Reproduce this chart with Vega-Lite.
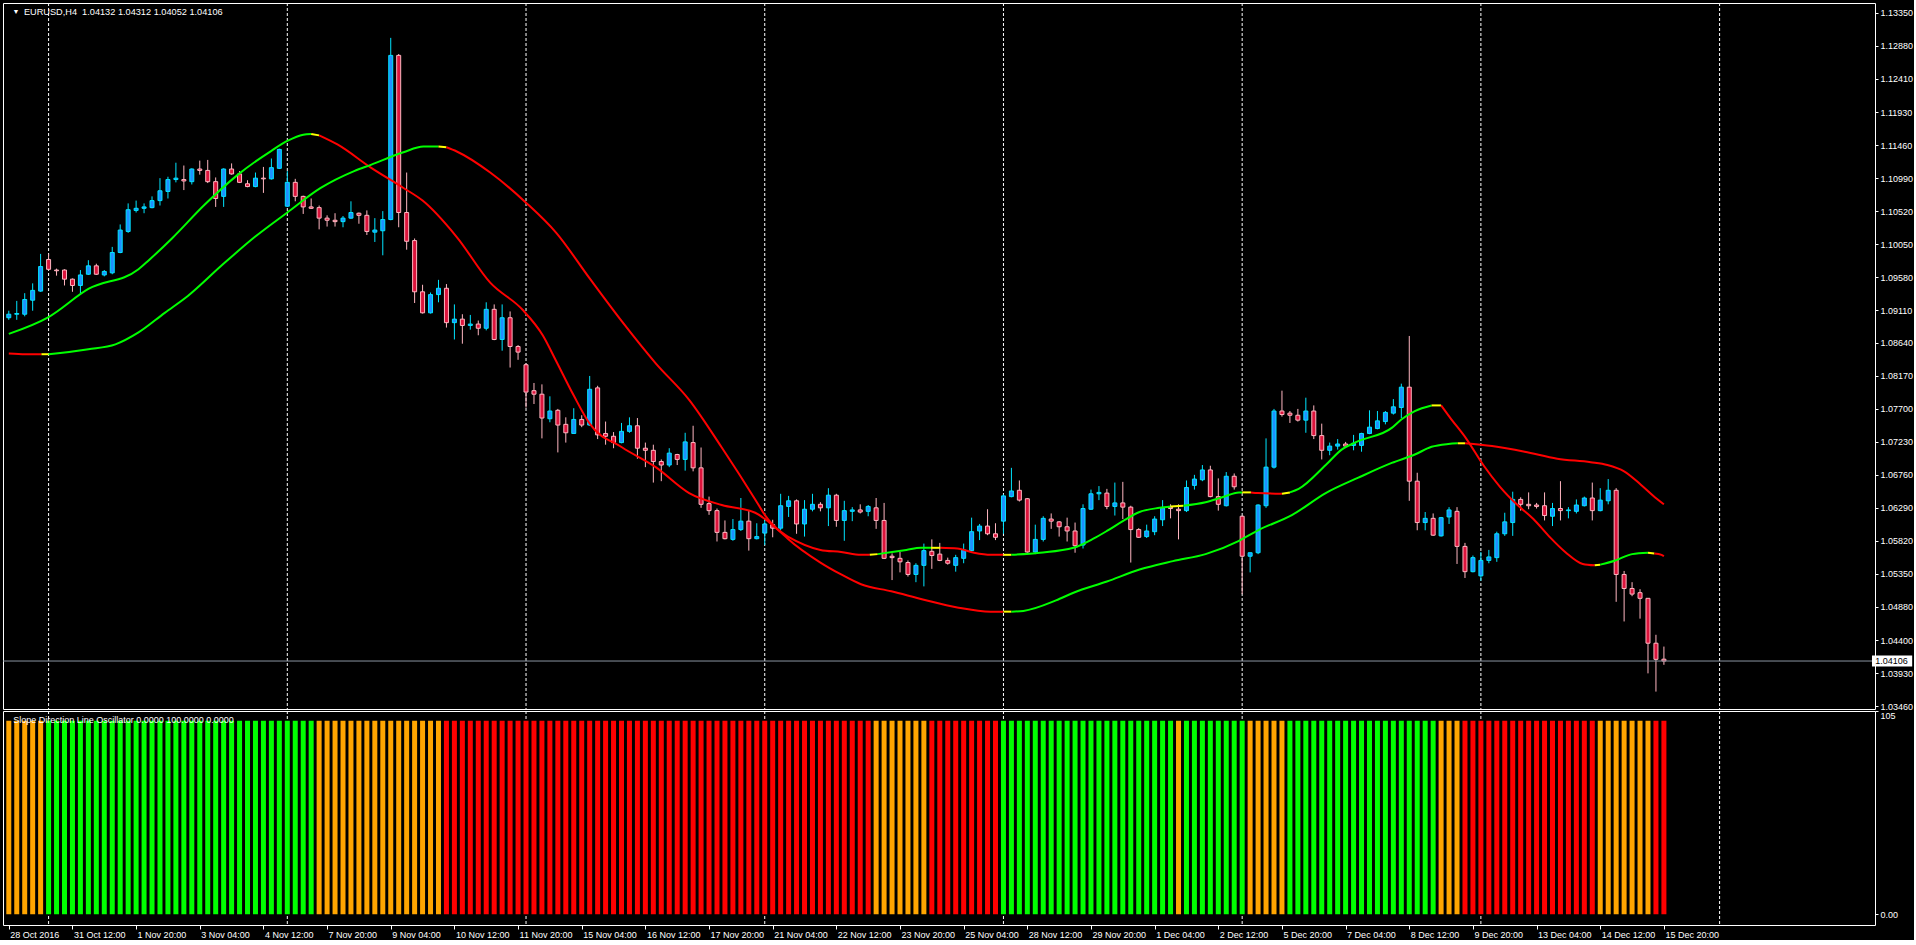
{
"$schema": "https://vega.github.io/schema/vega-lite/v6.json",
"background": "#000000",
"padding": {"left": 2, "top": 2, "right": 0, "bottom": 0},
"spacing": 2,
"bounds": "flush",
"config": {
  "view": {"stroke": "#FFFFFF", "strokeWidth": 1},
  "axis": {"labelFont": "Liberation Sans", "labelFontSize": 9, "labelColor": "#FFFFFF", "tickColor": "#FFFFFF", "grid": false, "domain": false, "labelOverlap": false},
  "text": {"font": "Liberation Sans", "fontSize": 9}
},
"datasets": {
"k": [
{"i":0,"o":1.0900,"h":1.0910,"l":1.0897,"c":1.0905,"d":"u"},
{"i":1,"o":1.0905,"h":1.0924,"l":1.0897,"c":1.0906,"d":"u"},
{"i":2,"o":1.0905,"h":1.0935,"l":1.0902,"c":1.0926,"d":"u"},
{"i":3,"o":1.0925,"h":1.0949,"l":1.0910,"c":1.0939,"d":"u"},
{"i":4,"o":1.0938,"h":1.0991,"l":1.0937,"c":1.0973,"d":"u"},
{"i":5,"o":1.0983,"h":1.0991,"l":1.0968,"c":1.0969,"d":"d"},
{"i":6,"o":1.0968,"h":1.0970,"l":1.0960,"c":1.0967,"d":"d"},
{"i":7,"o":1.0968,"h":1.0969,"l":1.0946,"c":1.0955,"d":"d"},
{"i":8,"o":1.0955,"h":1.0956,"l":1.0937,"c":1.0946,"d":"d"},
{"i":9,"o":1.0946,"h":1.0968,"l":1.0933,"c":1.0961,"d":"u"},
{"i":10,"o":1.0962,"h":1.0982,"l":1.0961,"c":1.0974,"d":"u"},
{"i":11,"o":1.0974,"h":1.0977,"l":1.0961,"c":1.0962,"d":"d"},
{"i":12,"o":1.0961,"h":1.0968,"l":1.0959,"c":1.0966,"d":"u"},
{"i":13,"o":1.0964,"h":1.1001,"l":1.0962,"c":1.0993,"d":"u"},
{"i":14,"o":1.0993,"h":1.1033,"l":1.0992,"c":1.1025,"d":"u"},
{"i":15,"o":1.1023,"h":1.1063,"l":1.1021,"c":1.1054,"d":"u"},
{"i":16,"o":1.1053,"h":1.1067,"l":1.1050,"c":1.1056,"d":"u"},
{"i":17,"o":1.1056,"h":1.1063,"l":1.1049,"c":1.1058,"d":"u"},
{"i":18,"o":1.1057,"h":1.1073,"l":1.1056,"c":1.1067,"d":"u"},
{"i":19,"o":1.1067,"h":1.1099,"l":1.1060,"c":1.1081,"d":"u"},
{"i":20,"o":1.1080,"h":1.1101,"l":1.1070,"c":1.1097,"d":"u"},
{"i":21,"o":1.1097,"h":1.1121,"l":1.1093,"c":1.1099,"d":"u"},
{"i":22,"o":1.1097,"h":1.1117,"l":1.1082,"c":1.1095,"d":"d"},
{"i":23,"o":1.1094,"h":1.1113,"l":1.1090,"c":1.1112,"d":"u"},
{"i":24,"o":1.1112,"h":1.1124,"l":1.1104,"c":1.1110,"d":"d"},
{"i":25,"o":1.1110,"h":1.1125,"l":1.1092,"c":1.1094,"d":"d"},
{"i":26,"o":1.1094,"h":1.1100,"l":1.1058,"c":1.1070,"d":"d"},
{"i":27,"o":1.1073,"h":1.1113,"l":1.1058,"c":1.1112,"d":"u"},
{"i":28,"o":1.1112,"h":1.1120,"l":1.1104,"c":1.1105,"d":"d"},
{"i":29,"o":1.1105,"h":1.1109,"l":1.1092,"c":1.1093,"d":"d"},
{"i":30,"o":1.1091,"h":1.1096,"l":1.1086,"c":1.1087,"d":"d"},
{"i":31,"o":1.1087,"h":1.1107,"l":1.1086,"c":1.1099,"d":"u"},
{"i":32,"o":1.1099,"h":1.1115,"l":1.1078,"c":1.1098,"d":"d"},
{"i":33,"o":1.1098,"h":1.1127,"l":1.1097,"c":1.1114,"d":"u"},
{"i":34,"o":1.1113,"h":1.1141,"l":1.1112,"c":1.1140,"d":"u"},
{"i":35,"o":1.1059,"h":1.1109,"l":1.1058,"c":1.1093,"d":"u"},
{"i":36,"o":1.1093,"h":1.1098,"l":1.1066,"c":1.1073,"d":"d"},
{"i":37,"o":1.1073,"h":1.1074,"l":1.1048,"c":1.1058,"d":"d"},
{"i":38,"o":1.1058,"h":1.1070,"l":1.1055,"c":1.1056,"d":"d"},
{"i":39,"o":1.1057,"h":1.1060,"l":1.1026,"c":1.1042,"d":"d"},
{"i":40,"o":1.1042,"h":1.1046,"l":1.1030,"c":1.1039,"d":"d"},
{"i":41,"o":1.1039,"h":1.1049,"l":1.1030,"c":1.1037,"d":"d"},
{"i":42,"o":1.1037,"h":1.1045,"l":1.1029,"c":1.1042,"d":"u"},
{"i":43,"o":1.1042,"h":1.1066,"l":1.1041,"c":1.1050,"d":"u"},
{"i":44,"o":1.1049,"h":1.1050,"l":1.1034,"c":1.1046,"d":"d"},
{"i":45,"o":1.1046,"h":1.1053,"l":1.1018,"c":1.1023,"d":"d"},
{"i":46,"o":1.1022,"h":1.1042,"l":1.1008,"c":1.1025,"d":"u"},
{"i":47,"o":1.1024,"h":1.1052,"l":1.0989,"c":1.1040,"d":"u"},
{"i":48,"o":1.1040,"h":1.1299,"l":1.1039,"c":1.1274,"d":"u"},
{"i":49,"o":1.1274,"h":1.1276,"l":1.1029,"c":1.1050,"d":"d"},
{"i":50,"o":1.1050,"h":1.1107,"l":1.0997,"c":1.1009,"d":"d"},
{"i":51,"o":1.1010,"h":1.1013,"l":1.0921,"c":1.0937,"d":"d"},
{"i":52,"o":1.0937,"h":1.0947,"l":1.0906,"c":1.0907,"d":"d"},
{"i":53,"o":1.0907,"h":1.0936,"l":1.0906,"c":1.0933,"d":"u"},
{"i":54,"o":1.0933,"h":1.0954,"l":1.0922,"c":1.0942,"d":"u"},
{"i":55,"o":1.0942,"h":1.0948,"l":1.0886,"c":1.0893,"d":"d"},
{"i":56,"o":1.0893,"h":1.0919,"l":1.0869,"c":1.0898,"d":"u"},
{"i":57,"o":1.0898,"h":1.0905,"l":1.0863,"c":1.0889,"d":"d"},
{"i":58,"o":1.0889,"h":1.0904,"l":1.0883,"c":1.0891,"d":"u"},
{"i":59,"o":1.0891,"h":1.0896,"l":1.0875,"c":1.0885,"d":"d"},
{"i":60,"o":1.0885,"h":1.0922,"l":1.0882,"c":1.0912,"d":"u"},
{"i":61,"o":1.0912,"h":1.0919,"l":1.0868,"c":1.0869,"d":"d"},
{"i":62,"o":1.0869,"h":1.0919,"l":1.0853,"c":1.0900,"d":"u"},
{"i":63,"o":1.0900,"h":1.0909,"l":1.0829,"c":1.0859,"d":"d"},
{"i":64,"o":1.0859,"h":1.0861,"l":1.0840,"c":1.0851,"d":"d"},
{"i":65,"o":1.0833,"h":1.0835,"l":1.0772,"c":1.0794,"d":"d"},
{"i":66,"o":1.0796,"h":1.0807,"l":1.0777,"c":1.0791,"d":"d"},
{"i":67,"o":1.0791,"h":1.0805,"l":1.0728,"c":1.0757,"d":"d"},
{"i":68,"o":1.0756,"h":1.0788,"l":1.0751,"c":1.0767,"d":"u"},
{"i":69,"o":1.0768,"h":1.0770,"l":1.0708,"c":1.0747,"d":"d"},
{"i":70,"o":1.0748,"h":1.0758,"l":1.0722,"c":1.0736,"d":"d"},
{"i":71,"o":1.0735,"h":1.0771,"l":1.0735,"c":1.0755,"d":"u"},
{"i":72,"o":1.0755,"h":1.0761,"l":1.0744,"c":1.0747,"d":"d"},
{"i":73,"o":1.0747,"h":1.0817,"l":1.0746,"c":1.0798,"d":"u"},
{"i":74,"o":1.0800,"h":1.0803,"l":1.0727,"c":1.0733,"d":"d"},
{"i":75,"o":1.0735,"h":1.0752,"l":1.0719,"c":1.0731,"d":"d"},
{"i":76,"o":1.0731,"h":1.0737,"l":1.0714,"c":1.0722,"d":"d"},
{"i":77,"o":1.0722,"h":1.0750,"l":1.0721,"c":1.0738,"d":"u"},
{"i":78,"o":1.0738,"h":1.0758,"l":1.0736,"c":1.0746,"d":"u"},
{"i":79,"o":1.0746,"h":1.0757,"l":1.0699,"c":1.0714,"d":"d"},
{"i":80,"o":1.0714,"h":1.0722,"l":1.0687,"c":1.0711,"d":"d"},
{"i":81,"o":1.0711,"h":1.0719,"l":1.0665,"c":1.0695,"d":"d"},
{"i":82,"o":1.0695,"h":1.0698,"l":1.0667,"c":1.0690,"d":"d"},
{"i":83,"o":1.0690,"h":1.0714,"l":1.0687,"c":1.0707,"d":"u"},
{"i":84,"o":1.0705,"h":1.0706,"l":1.0690,"c":1.0698,"d":"d"},
{"i":85,"o":1.0698,"h":1.0736,"l":1.0682,"c":1.0723,"d":"u"},
{"i":86,"o":1.0722,"h":1.0746,"l":1.0681,"c":1.0686,"d":"d"},
{"i":87,"o":1.0686,"h":1.0715,"l":1.0629,"c":1.0634,"d":"d"},
{"i":88,"o":1.0635,"h":1.0645,"l":1.0619,"c":1.0625,"d":"d"},
{"i":89,"o":1.0625,"h":1.0628,"l":1.0581,"c":1.0594,"d":"d"},
{"i":90,"o":1.0594,"h":1.0611,"l":1.0584,"c":1.0585,"d":"d"},
{"i":91,"o":1.0584,"h":1.0613,"l":1.0582,"c":1.0598,"d":"u"},
{"i":92,"o":1.0598,"h":1.0643,"l":1.0596,"c":1.0610,"d":"u"},
{"i":93,"o":1.0610,"h":1.0625,"l":1.0568,"c":1.0585,"d":"d"},
{"i":94,"o":1.0585,"h":1.0607,"l":1.0584,"c":1.0588,"d":"u"},
{"i":95,"o":1.0593,"h":1.0613,"l":1.0576,"c":1.0606,"d":"u"},
{"i":96,"o":1.0605,"h":1.0612,"l":1.0587,"c":1.0600,"d":"d"},
{"i":97,"o":1.0600,"h":1.0649,"l":1.0597,"c":1.0632,"d":"u"},
{"i":98,"o":1.0631,"h":1.0646,"l":1.0616,"c":1.0639,"d":"u"},
{"i":99,"o":1.0639,"h":1.0641,"l":1.0592,"c":1.0606,"d":"d"},
{"i":100,"o":1.0606,"h":1.0640,"l":1.0588,"c":1.0627,"d":"u"},
{"i":101,"o":1.0627,"h":1.0649,"l":1.0624,"c":1.0634,"d":"u"},
{"i":102,"o":1.0634,"h":1.0637,"l":1.0624,"c":1.0629,"d":"d"},
{"i":103,"o":1.0629,"h":1.0657,"l":1.0603,"c":1.0647,"d":"u"},
{"i":104,"o":1.0647,"h":1.0649,"l":1.0602,"c":1.0611,"d":"d"},
{"i":105,"o":1.0611,"h":1.0639,"l":1.0582,"c":1.0625,"d":"u"},
{"i":106,"o":1.0624,"h":1.0630,"l":1.0610,"c":1.0626,"d":"u"},
{"i":107,"o":1.0626,"h":1.0634,"l":1.0621,"c":1.0623,"d":"d"},
{"i":108,"o":1.0624,"h":1.0633,"l":1.0617,"c":1.0631,"d":"u"},
{"i":109,"o":1.0629,"h":1.0643,"l":1.0599,"c":1.0611,"d":"d"},
{"i":110,"o":1.0611,"h":1.0636,"l":1.0556,"c":1.0557,"d":"d"},
{"i":111,"o":1.0560,"h":1.0564,"l":1.0526,"c":1.0558,"d":"d"},
{"i":112,"o":1.0557,"h":1.0566,"l":1.0537,"c":1.0552,"d":"d"},
{"i":113,"o":1.0551,"h":1.0554,"l":1.0531,"c":1.0534,"d":"d"},
{"i":114,"o":1.0534,"h":1.0550,"l":1.0523,"c":1.0547,"d":"u"},
{"i":115,"o":1.0547,"h":1.0578,"l":1.0517,"c":1.0568,"d":"u"},
{"i":116,"o":1.0567,"h":1.0584,"l":1.0542,"c":1.0561,"d":"d"},
{"i":117,"o":1.0563,"h":1.0579,"l":1.0553,"c":1.0554,"d":"d"},
{"i":118,"o":1.0554,"h":1.0558,"l":1.0548,"c":1.0550,"d":"d"},
{"i":119,"o":1.0547,"h":1.0562,"l":1.0538,"c":1.0558,"d":"u"},
{"i":120,"o":1.0557,"h":1.0578,"l":1.0550,"c":1.0569,"d":"u"},
{"i":121,"o":1.0568,"h":1.0615,"l":1.0567,"c":1.0595,"d":"u"},
{"i":122,"o":1.0596,"h":1.0606,"l":1.0583,"c":1.0603,"d":"u"},
{"i":123,"o":1.0603,"h":1.0627,"l":1.0590,"c":1.0592,"d":"d"},
{"i":124,"o":1.0592,"h":1.0607,"l":1.0583,"c":1.0587,"d":"d"},
{"i":125,"o":1.0610,"h":1.0648,"l":1.0592,"c":1.0646,"d":"u"},
{"i":126,"o":1.0645,"h":1.0686,"l":1.0644,"c":1.0653,"d":"u"},
{"i":127,"o":1.0654,"h":1.0668,"l":1.0638,"c":1.0640,"d":"d"},
{"i":128,"o":1.0642,"h":1.0643,"l":1.0565,"c":1.0566,"d":"d"},
{"i":129,"o":1.0566,"h":1.0605,"l":1.0563,"c":1.0584,"d":"u"},
{"i":130,"o":1.0584,"h":1.0617,"l":1.0581,"c":1.0614,"d":"u"},
{"i":131,"o":1.0613,"h":1.0621,"l":1.0599,"c":1.0610,"d":"d"},
{"i":132,"o":1.0609,"h":1.0610,"l":1.0588,"c":1.0602,"d":"d"},
{"i":133,"o":1.0602,"h":1.0615,"l":1.0581,"c":1.0596,"d":"d"},
{"i":134,"o":1.0596,"h":1.0608,"l":1.0565,"c":1.0575,"d":"d"},
{"i":135,"o":1.0576,"h":1.0634,"l":1.0571,"c":1.0628,"d":"u"},
{"i":136,"o":1.0627,"h":1.0655,"l":1.0626,"c":1.0649,"d":"u"},
{"i":137,"o":1.0649,"h":1.0660,"l":1.0640,"c":1.0651,"d":"u"},
{"i":138,"o":1.0650,"h":1.0656,"l":1.0627,"c":1.0631,"d":"d"},
{"i":139,"o":1.0631,"h":1.0665,"l":1.0618,"c":1.0636,"d":"u"},
{"i":140,"o":1.0636,"h":1.0666,"l":1.0613,"c":1.0630,"d":"d"},
{"i":141,"o":1.0630,"h":1.0632,"l":1.0551,"c":1.0598,"d":"d"},
{"i":142,"o":1.0598,"h":1.0600,"l":1.0586,"c":1.0587,"d":"d"},
{"i":143,"o":1.0588,"h":1.0605,"l":1.0586,"c":1.0596,"d":"u"},
{"i":144,"o":1.0595,"h":1.0617,"l":1.0590,"c":1.0613,"d":"u"},
{"i":145,"o":1.0612,"h":1.0640,"l":1.0603,"c":1.0629,"d":"u"},
{"i":146,"o":1.0630,"h":1.0634,"l":1.0614,"c":1.0628,"d":"d"},
{"i":147,"o":1.0627,"h":1.0634,"l":1.0584,"c":1.0625,"d":"d"},
{"i":148,"o":1.0625,"h":1.0668,"l":1.0623,"c":1.0658,"d":"u"},
{"i":149,"o":1.0661,"h":1.0676,"l":1.0655,"c":1.0670,"d":"u"},
{"i":150,"o":1.0669,"h":1.0690,"l":1.0667,"c":1.0683,"d":"u"},
{"i":151,"o":1.0683,"h":1.0689,"l":1.0644,"c":1.0645,"d":"d"},
{"i":152,"o":1.0645,"h":1.0671,"l":1.0625,"c":1.0634,"d":"d"},
{"i":153,"o":1.0632,"h":1.0680,"l":1.0631,"c":1.0674,"d":"u"},
{"i":154,"o":1.0674,"h":1.0678,"l":1.0655,"c":1.0659,"d":"d"},
{"i":155,"o":1.0617,"h":1.0618,"l":1.0506,"c":1.0560,"d":"d"},
{"i":156,"o":1.0560,"h":1.0565,"l":1.0537,"c":1.0565,"d":"u"},
{"i":157,"o":1.0565,"h":1.0634,"l":1.0563,"c":1.0633,"d":"u"},
{"i":158,"o":1.0632,"h":1.0728,"l":1.0629,"c":1.0687,"d":"u"},
{"i":159,"o":1.0687,"h":1.0770,"l":1.0685,"c":1.0767,"d":"u"},
{"i":160,"o":1.0767,"h":1.0796,"l":1.0759,"c":1.0762,"d":"d"},
{"i":161,"o":1.0764,"h":1.0767,"l":1.0750,"c":1.0761,"d":"d"},
{"i":162,"o":1.0761,"h":1.0770,"l":1.0752,"c":1.0754,"d":"d"},
{"i":163,"o":1.0754,"h":1.0786,"l":1.0736,"c":1.0767,"d":"u"},
{"i":164,"o":1.0767,"h":1.0775,"l":1.0727,"c":1.0732,"d":"d"},
{"i":165,"o":1.0732,"h":1.0749,"l":1.0698,"c":1.0711,"d":"d"},
{"i":166,"o":1.0711,"h":1.0722,"l":1.0704,"c":1.0717,"d":"u"},
{"i":167,"o":1.0717,"h":1.0727,"l":1.0712,"c":1.0720,"d":"u"},
{"i":168,"o":1.0720,"h":1.0723,"l":1.0715,"c":1.0717,"d":"d"},
{"i":169,"o":1.0718,"h":1.0733,"l":1.0711,"c":1.0721,"d":"u"},
{"i":170,"o":1.0718,"h":1.0736,"l":1.0709,"c":1.0735,"d":"u"},
{"i":171,"o":1.0735,"h":1.0768,"l":1.0734,"c":1.0744,"d":"u"},
{"i":172,"o":1.0742,"h":1.0767,"l":1.0741,"c":1.0753,"d":"u"},
{"i":173,"o":1.0752,"h":1.0767,"l":1.0748,"c":1.0765,"d":"u"},
{"i":174,"o":1.0764,"h":1.0784,"l":1.0762,"c":1.0773,"d":"u"},
{"i":175,"o":1.0772,"h":1.0806,"l":1.0757,"c":1.0801,"d":"u"},
{"i":176,"o":1.0801,"h":1.0874,"l":1.0639,"c":1.0667,"d":"d"},
{"i":177,"o":1.0667,"h":1.0679,"l":1.0597,"c":1.0608,"d":"d"},
{"i":178,"o":1.0608,"h":1.0623,"l":1.0597,"c":1.0614,"d":"u"},
{"i":179,"o":1.0614,"h":1.0621,"l":1.0589,"c":1.0590,"d":"d"},
{"i":180,"o":1.0589,"h":1.0616,"l":1.0588,"c":1.0615,"d":"u"},
{"i":181,"o":1.0616,"h":1.0630,"l":1.0606,"c":1.0626,"d":"u"},
{"i":182,"o":1.0624,"h":1.0630,"l":1.0549,"c":1.0574,"d":"d"},
{"i":183,"o":1.0574,"h":1.0579,"l":1.0529,"c":1.0538,"d":"d"},
{"i":184,"o":1.0538,"h":1.0561,"l":1.0537,"c":1.0558,"d":"u"},
{"i":185,"o":1.0532,"h":1.0566,"l":1.0525,"c":1.0554,"d":"u"},
{"i":186,"o":1.0554,"h":1.0569,"l":1.0550,"c":1.0559,"d":"u"},
{"i":187,"o":1.0558,"h":1.0595,"l":1.0552,"c":1.0592,"d":"u"},
{"i":188,"o":1.0592,"h":1.0622,"l":1.0589,"c":1.0609,"d":"u"},
{"i":189,"o":1.0608,"h":1.0652,"l":1.0589,"c":1.0641,"d":"u"},
{"i":190,"o":1.0641,"h":1.0644,"l":1.0625,"c":1.0634,"d":"d"},
{"i":191,"o":1.0634,"h":1.0651,"l":1.0627,"c":1.0632,"d":"d"},
{"i":192,"o":1.0633,"h":1.0636,"l":1.0628,"c":1.0631,"d":"d"},
{"i":193,"o":1.0632,"h":1.0651,"l":1.0611,"c":1.0618,"d":"d"},
{"i":194,"o":1.0617,"h":1.0636,"l":1.0603,"c":1.0628,"d":"u"},
{"i":195,"o":1.0628,"h":1.0667,"l":1.0611,"c":1.0625,"d":"d"},
{"i":196,"o":1.0625,"h":1.0630,"l":1.0614,"c":1.0626,"d":"u"},
{"i":197,"o":1.0624,"h":1.0641,"l":1.0621,"c":1.0633,"d":"u"},
{"i":198,"o":1.0632,"h":1.0645,"l":1.0631,"c":1.0643,"d":"u"},
{"i":199,"o":1.0643,"h":1.0665,"l":1.0611,"c":1.0625,"d":"d"},
{"i":200,"o":1.0625,"h":1.0657,"l":1.0624,"c":1.0640,"d":"u"},
{"i":201,"o":1.0639,"h":1.0670,"l":1.0634,"c":1.0654,"d":"u"},
{"i":202,"o":1.0654,"h":1.0657,"l":1.0495,"c":1.0534,"d":"d"},
{"i":203,"o":1.0534,"h":1.0539,"l":1.0467,"c":1.0514,"d":"d"},
{"i":204,"o":1.0514,"h":1.0523,"l":1.0503,"c":1.0506,"d":"d"},
{"i":205,"o":1.0508,"h":1.0513,"l":1.0471,"c":1.0500,"d":"d"},
{"i":206,"o":1.0500,"h":1.0500,"l":1.0393,"c":1.0436,"d":"d"},
{"i":207,"o":1.0436,"h":1.0448,"l":1.0367,"c":1.0413,"d":"d"},
{"i":208,"o":1.04132,"h":1.04312,"l":1.04052,"c":1.04106,"d":"d"}
],
"ma": [
{"s":"F1","c":"g","i":0,"v":1.0877},{"s":"F1","c":"g","i":5,"v":1.0901},{"s":"F1","c":"g","i":10,"v":1.0941},{"s":"F1","c":"g","i":16.3,"v":1.0969},{"s":"F1","c":"g","i":17.6,"v":1.0982},{"s":"F1","c":"g","i":20.5,"v":1.1013},{"s":"F1","c":"g","i":24.6,"v":1.1061},{"s":"F1","c":"g","i":28.8,"v":1.1104},{"s":"F1","c":"g","i":33,"v":1.1138},{"s":"F1","c":"g","i":35,"v":1.1152},{"s":"F1","c":"g","i":37,"v":1.1161},{"s":"F1","c":"g","i":38,"v":1.1162},
{"s":"F2","c":"y","i":38,"v":1.1162},{"s":"F2","c":"y","i":39,"v":1.1160},
{"s":"F3","c":"r","i":39,"v":1.1160},{"s":"F3","c":"r","i":41.3,"v":1.1147},{"s":"F3","c":"r","i":45.5,"v":1.1114},{"s":"F3","c":"r","i":49.6,"v":1.1085},{"s":"F3","c":"r","i":52,"v":1.1067},{"s":"F3","c":"r","i":56.3,"v":1.1015},{"s":"F3","c":"r","i":60.5,"v":1.0950},{"s":"F3","c":"r","i":64.6,"v":1.0911},{"s":"F3","c":"r","i":67.1,"v":1.0875},{"s":"F3","c":"r","i":68.8,"v":1.0838},{"s":"F3","c":"r","i":71,"v":1.0789},{"s":"F3","c":"r","i":73,"v":1.0749},{"s":"F3","c":"r","i":77.1,"v":1.0715},{"s":"F3","c":"r","i":81.3,"v":1.0687},{"s":"F3","c":"r","i":85.5,"v":1.0650},{"s":"F3","c":"r","i":89.6,"v":1.0633},{"s":"F3","c":"r","i":93.8,"v":1.0622},{"s":"F3","c":"r","i":97.9,"v":1.0588},{"s":"F3","c":"r","i":102,"v":1.0569},{"s":"F3","c":"r","i":104.6,"v":1.0566},{"s":"F3","c":"r","i":107.1,"v":1.0562},{"s":"F3","c":"r","i":108.2,"v":1.0562},
{"s":"F4","c":"y","i":108.2,"v":1.0562},{"s":"F4","c":"y","i":109.2,"v":1.0563},
{"s":"F5","c":"g","i":109.2,"v":1.0563},{"s":"F5","c":"g","i":112.8,"v":1.0569},{"s":"F5","c":"g","i":114.6,"v":1.0572},{"s":"F5","c":"g","i":115.9,"v":1.0572},
{"s":"F6","c":"y","i":115.9,"v":1.0572},{"s":"F6","c":"y","i":117.1,"v":1.0572},
{"s":"F7","c":"r","i":117.1,"v":1.0572},{"s":"F7","c":"r","i":119.2,"v":1.0571},{"s":"F7","c":"r","i":121.3,"v":1.0565},{"s":"F7","c":"r","i":123.4,"v":1.0562},{"s":"F7","c":"r","i":125,"v":1.0562},
{"s":"F8","c":"y","i":125,"v":1.0562},{"s":"F8","c":"y","i":126,"v":1.0562},
{"s":"F9","c":"g","i":126,"v":1.0562},{"s":"F9","c":"g","i":129.6,"v":1.0565},{"s":"F9","c":"g","i":133.8,"v":1.0572},{"s":"F9","c":"g","i":136.3,"v":1.0585},{"s":"F9","c":"g","i":138,"v":1.0596},{"s":"F9","c":"g","i":140,"v":1.0610},{"s":"F9","c":"g","i":142.1,"v":1.0623},{"s":"F9","c":"g","i":144.6,"v":1.0629},{"s":"F9","c":"g","i":146,"v":1.0631},
{"s":"F10","c":"y","i":146,"v":1.0631},{"s":"F10","c":"y","i":147.6,"v":1.0632},
{"s":"F11","c":"g","i":147.6,"v":1.0632},{"s":"F11","c":"g","i":150.4,"v":1.0637},{"s":"F11","c":"g","i":152.5,"v":1.0644},{"s":"F11","c":"g","i":154.6,"v":1.0651},{"s":"F11","c":"g","i":155,"v":1.0651},
{"s":"F12","c":"y","i":155,"v":1.0651},{"s":"F12","c":"y","i":156.1,"v":1.0651},
{"s":"F13","c":"r","i":156.1,"v":1.0651},{"s":"F13","c":"r","i":157,"v":1.0650},{"s":"F13","c":"r","i":160,"v":1.0649},
{"s":"F14","c":"y","i":160,"v":1.0649},{"s":"F14","c":"y","i":161,"v":1.0651},
{"s":"F15","c":"g","i":161,"v":1.0651},{"s":"F15","c":"g","i":162.1,"v":1.0656},{"s":"F15","c":"g","i":165.5,"v":1.0690},{"s":"F15","c":"g","i":167.5,"v":1.0712},{"s":"F15","c":"g","i":169.6,"v":1.0724},{"s":"F15","c":"g","i":173.8,"v":1.0743},{"s":"F15","c":"g","i":175,"v":1.0755},{"s":"F15","c":"g","i":176.7,"v":1.0767},{"s":"F15","c":"g","i":178.8,"v":1.0775},
{"s":"F16","c":"y","i":178.8,"v":1.0775},{"s":"F16","c":"y","i":180,"v":1.0775},
{"s":"F17","c":"r","i":180,"v":1.0775},{"s":"F17","c":"r","i":181.1,"v":1.0758},{"s":"F17","c":"r","i":183.2,"v":1.0727},{"s":"F17","c":"r","i":185.3,"v":1.0690},{"s":"F17","c":"r","i":187.4,"v":1.0659},{"s":"F17","c":"r","i":189.5,"v":1.0634},{"s":"F17","c":"r","i":191.6,"v":1.0613},{"s":"F17","c":"r","i":193.6,"v":1.0588},{"s":"F17","c":"r","i":195.7,"v":1.0565},{"s":"F17","c":"r","i":197.8,"v":1.0549},{"s":"F17","c":"r","i":199.3,"v":1.0547},
{"s":"F18","c":"y","i":199.3,"v":1.0547},{"s":"F18","c":"y","i":200,"v":1.0548},
{"s":"F19","c":"g","i":200,"v":1.0548},{"s":"F19","c":"g","i":201.9,"v":1.0554},{"s":"F19","c":"g","i":204,"v":1.0563},{"s":"F19","c":"g","i":206,"v":1.0565},
{"s":"F20","c":"y","i":206,"v":1.0565},{"s":"F20","c":"y","i":206.8,"v":1.0564},
{"s":"F21","c":"r","i":206.8,"v":1.0564},{"s":"F21","c":"r","i":207.7,"v":1.0562},{"s":"F21","c":"r","i":208,"v":1.0560},
{"s":"S1","c":"r","i":0,"v":1.0849},{"s":"S1","c":"r","i":2.1,"v":1.0848},{"s":"S1","c":"r","i":4.1,"v":1.0848},
{"s":"S2","c":"y","i":4.1,"v":1.0848},{"s":"S2","c":"y","i":5,"v":1.0848},
{"s":"S3","c":"g","i":5,"v":1.0848},{"s":"S3","c":"g","i":5.9,"v":1.0849},{"s":"S3","c":"g","i":10,"v":1.0855},{"s":"S3","c":"g","i":13.4,"v":1.0862},{"s":"S3","c":"g","i":16.3,"v":1.0879},{"s":"S3","c":"g","i":19.6,"v":1.0907},{"s":"S3","c":"g","i":22.5,"v":1.0931},{"s":"S3","c":"g","i":26.7,"v":1.0974},{"s":"S3","c":"g","i":30.9,"v":1.1015},{"s":"S3","c":"g","i":35,"v":1.1050},{"s":"S3","c":"g","i":39.2,"v":1.1085},{"s":"S3","c":"g","i":43.4,"v":1.1109},{"s":"S3","c":"g","i":45.5,"v":1.1118},{"s":"S3","c":"g","i":49.6,"v":1.1136},{"s":"S3","c":"g","i":52.1,"v":1.1144},{"s":"S3","c":"g","i":54,"v":1.1144},
{"s":"S4","c":"y","i":54,"v":1.1144},{"s":"S4","c":"y","i":55,"v":1.1143},
{"s":"S5","c":"r","i":55,"v":1.1143},{"s":"S5","c":"r","i":56.3,"v":1.1137},{"s":"S5","c":"r","i":60.5,"v":1.1107},{"s":"S5","c":"r","i":65,"v":1.1064},{"s":"S5","c":"r","i":68.8,"v":1.1021},{"s":"S5","c":"r","i":73,"v":1.0956},{"s":"S5","c":"r","i":77.1,"v":1.0894},{"s":"S5","c":"r","i":81.3,"v":1.0835},{"s":"S5","c":"r","i":85.5,"v":1.0783},{"s":"S5","c":"r","i":89.6,"v":1.0715},{"s":"S5","c":"r","i":93.8,"v":1.0641},{"s":"S5","c":"r","i":95,"v":1.0619},{"s":"S5","c":"r","i":97.9,"v":1.0585},{"s":"S5","c":"r","i":102,"v":1.0551},{"s":"S5","c":"r","i":104.6,"v":1.0534},{"s":"S5","c":"r","i":107.1,"v":1.0520},{"s":"S5","c":"r","i":110.9,"v":1.0510},{"s":"S5","c":"r","i":115,"v":1.0498},{"s":"S5","c":"r","i":119.2,"v":1.0487},{"s":"S5","c":"r","i":123.4,"v":1.0481},{"s":"S5","c":"r","i":125,"v":1.0481},
{"s":"S6","c":"y","i":125,"v":1.0481},{"s":"S6","c":"y","i":126,"v":1.0481},
{"s":"S7","c":"g","i":126,"v":1.0481},{"s":"S7","c":"g","i":127.5,"v":1.0482},{"s":"S7","c":"g","i":131.6,"v":1.0497},{"s":"S7","c":"g","i":133.8,"v":1.0508},{"s":"S7","c":"g","i":138,"v":1.0524},{"s":"S7","c":"g","i":142.1,"v":1.0541},{"s":"S7","c":"g","i":146.3,"v":1.0553},{"s":"S7","c":"g","i":150.4,"v":1.0563},{"s":"S7","c":"g","i":154.6,"v":1.0582},{"s":"S7","c":"g","i":157,"v":1.0597},{"s":"S7","c":"g","i":161.3,"v":1.0619},{"s":"S7","c":"g","i":165.5,"v":1.0650},{"s":"S7","c":"g","i":169.6,"v":1.0672},{"s":"S7","c":"g","i":173.8,"v":1.0693},{"s":"S7","c":"g","i":176.7,"v":1.0705},{"s":"S7","c":"g","i":178.8,"v":1.0716},{"s":"S7","c":"g","i":180.9,"v":1.0720},{"s":"S7","c":"g","i":182.1,"v":1.0721},
{"s":"S8","c":"y","i":182.1,"v":1.0721},{"s":"S8","c":"y","i":183,"v":1.0721},
{"s":"S9","c":"r","i":183,"v":1.0721},{"s":"S9","c":"r","i":186.4,"v":1.0717},{"s":"S9","c":"r","i":190.5,"v":1.0709},{"s":"S9","c":"r","i":194.6,"v":1.0699},{"s":"S9","c":"r","i":198.8,"v":1.0694},{"s":"S9","c":"r","i":200.9,"v":1.0690},{"s":"S9","c":"r","i":203,"v":1.0681},{"s":"S9","c":"r","i":205.1,"v":1.0662},{"s":"S9","c":"r","i":207.1,"v":1.0642},{"s":"S9","c":"r","i":208,"v":1.0634}
],
"grid": [{"i":5},{"i":35},{"i":65},{"i":95},{"i":125},{"i":155},{"i":185},{"i":215}],
"ticks": [{"p":1.1335},{"p":1.1288},{"p":1.1241},{"p":1.1193},{"p":1.1146},{"p":1.1099},{"p":1.1052},{"p":1.1005},{"p":1.0958},{"p":1.0911},{"p":1.0864},{"p":1.0817},{"p":1.077},{"p":1.0723},{"p":1.0676},{"p":1.0629},{"p":1.0582},{"p":1.0535},{"p":1.0488},{"p":1.044},{"p":1.0393},{"p":1.0346}],
"osc": [
{"i":0,"v":100,"s":"o"},{"i":1,"v":100,"s":"o"},{"i":2,"v":100,"s":"o"},{"i":3,"v":100,"s":"o"},{"i":4,"v":100,"s":"o"},
{"i":5,"v":100,"s":"g"},{"i":6,"v":100,"s":"g"},{"i":7,"v":100,"s":"g"},{"i":8,"v":100,"s":"g"},{"i":9,"v":100,"s":"g"},{"i":10,"v":100,"s":"g"},{"i":11,"v":100,"s":"g"},{"i":12,"v":100,"s":"g"},{"i":13,"v":100,"s":"g"},{"i":14,"v":100,"s":"g"},{"i":15,"v":100,"s":"g"},{"i":16,"v":100,"s":"g"},{"i":17,"v":100,"s":"g"},{"i":18,"v":100,"s":"g"},{"i":19,"v":100,"s":"g"},{"i":20,"v":100,"s":"g"},{"i":21,"v":100,"s":"g"},{"i":22,"v":100,"s":"g"},{"i":23,"v":100,"s":"g"},{"i":24,"v":100,"s":"g"},{"i":25,"v":100,"s":"g"},{"i":26,"v":100,"s":"g"},{"i":27,"v":100,"s":"g"},{"i":28,"v":100,"s":"g"},{"i":29,"v":100,"s":"g"},{"i":30,"v":100,"s":"g"},{"i":31,"v":100,"s":"g"},{"i":32,"v":100,"s":"g"},{"i":33,"v":100,"s":"g"},{"i":34,"v":100,"s":"g"},{"i":35,"v":100,"s":"g"},{"i":36,"v":100,"s":"g"},{"i":37,"v":100,"s":"g"},{"i":38,"v":100,"s":"g"},
{"i":39,"v":100,"s":"o"},{"i":40,"v":100,"s":"o"},{"i":41,"v":100,"s":"o"},{"i":42,"v":100,"s":"o"},{"i":43,"v":100,"s":"o"},{"i":44,"v":100,"s":"o"},{"i":45,"v":100,"s":"o"},{"i":46,"v":100,"s":"o"},{"i":47,"v":100,"s":"o"},{"i":48,"v":100,"s":"o"},{"i":49,"v":100,"s":"o"},{"i":50,"v":100,"s":"o"},{"i":51,"v":100,"s":"o"},{"i":52,"v":100,"s":"o"},{"i":53,"v":100,"s":"o"},{"i":54,"v":100,"s":"o"},
{"i":55,"v":100,"s":"r"},{"i":56,"v":100,"s":"r"},{"i":57,"v":100,"s":"r"},{"i":58,"v":100,"s":"r"},{"i":59,"v":100,"s":"r"},{"i":60,"v":100,"s":"r"},{"i":61,"v":100,"s":"r"},{"i":62,"v":100,"s":"r"},{"i":63,"v":100,"s":"r"},{"i":64,"v":100,"s":"r"},{"i":65,"v":100,"s":"r"},{"i":66,"v":100,"s":"r"},{"i":67,"v":100,"s":"r"},{"i":68,"v":100,"s":"r"},{"i":69,"v":100,"s":"r"},{"i":70,"v":100,"s":"r"},{"i":71,"v":100,"s":"r"},{"i":72,"v":100,"s":"r"},{"i":73,"v":100,"s":"r"},{"i":74,"v":100,"s":"r"},{"i":75,"v":100,"s":"r"},{"i":76,"v":100,"s":"r"},{"i":77,"v":100,"s":"r"},{"i":78,"v":100,"s":"r"},{"i":79,"v":100,"s":"r"},{"i":80,"v":100,"s":"r"},{"i":81,"v":100,"s":"r"},{"i":82,"v":100,"s":"r"},{"i":83,"v":100,"s":"r"},{"i":84,"v":100,"s":"r"},{"i":85,"v":100,"s":"r"},{"i":86,"v":100,"s":"r"},{"i":87,"v":100,"s":"r"},{"i":88,"v":100,"s":"r"},{"i":89,"v":100,"s":"r"},{"i":90,"v":100,"s":"r"},{"i":91,"v":100,"s":"r"},{"i":92,"v":100,"s":"r"},{"i":93,"v":100,"s":"r"},{"i":94,"v":100,"s":"r"},{"i":95,"v":100,"s":"r"},{"i":96,"v":100,"s":"r"},{"i":97,"v":100,"s":"r"},{"i":98,"v":100,"s":"r"},{"i":99,"v":100,"s":"r"},{"i":100,"v":100,"s":"r"},{"i":101,"v":100,"s":"r"},{"i":102,"v":100,"s":"r"},{"i":103,"v":100,"s":"r"},{"i":104,"v":100,"s":"r"},{"i":105,"v":100,"s":"r"},{"i":106,"v":100,"s":"r"},{"i":107,"v":100,"s":"r"},{"i":108,"v":100,"s":"r"},
{"i":109,"v":100,"s":"o"},{"i":110,"v":100,"s":"o"},{"i":111,"v":100,"s":"o"},{"i":112,"v":100,"s":"o"},{"i":113,"v":100,"s":"o"},{"i":114,"v":100,"s":"o"},{"i":115,"v":100,"s":"o"},
{"i":116,"v":100,"s":"r"},{"i":117,"v":100,"s":"r"},{"i":118,"v":100,"s":"r"},{"i":119,"v":100,"s":"r"},{"i":120,"v":100,"s":"r"},{"i":121,"v":100,"s":"r"},{"i":122,"v":100,"s":"r"},{"i":123,"v":100,"s":"r"},{"i":124,"v":100,"s":"r"},
{"i":125,"v":100,"s":"g"},{"i":126,"v":100,"s":"g"},{"i":127,"v":100,"s":"g"},{"i":128,"v":100,"s":"g"},{"i":129,"v":100,"s":"g"},{"i":130,"v":100,"s":"g"},{"i":131,"v":100,"s":"g"},{"i":132,"v":100,"s":"g"},{"i":133,"v":100,"s":"g"},{"i":134,"v":100,"s":"g"},{"i":135,"v":100,"s":"g"},{"i":136,"v":100,"s":"g"},{"i":137,"v":100,"s":"g"},{"i":138,"v":100,"s":"g"},{"i":139,"v":100,"s":"g"},{"i":140,"v":100,"s":"g"},{"i":141,"v":100,"s":"g"},{"i":142,"v":100,"s":"g"},{"i":143,"v":100,"s":"g"},{"i":144,"v":100,"s":"g"},{"i":145,"v":100,"s":"g"},{"i":146,"v":100,"s":"g"},
{"i":147,"v":100,"s":"o"},
{"i":148,"v":100,"s":"g"},{"i":149,"v":100,"s":"g"},{"i":150,"v":100,"s":"g"},{"i":151,"v":100,"s":"g"},{"i":152,"v":100,"s":"g"},{"i":153,"v":100,"s":"g"},{"i":154,"v":100,"s":"g"},{"i":155,"v":100,"s":"g"},
{"i":156,"v":100,"s":"o"},{"i":157,"v":100,"s":"o"},{"i":158,"v":100,"s":"o"},{"i":159,"v":100,"s":"o"},{"i":160,"v":100,"s":"o"},
{"i":161,"v":100,"s":"g"},{"i":162,"v":100,"s":"g"},{"i":163,"v":100,"s":"g"},{"i":164,"v":100,"s":"g"},{"i":165,"v":100,"s":"g"},{"i":166,"v":100,"s":"g"},{"i":167,"v":100,"s":"g"},{"i":168,"v":100,"s":"g"},{"i":169,"v":100,"s":"g"},{"i":170,"v":100,"s":"g"},{"i":171,"v":100,"s":"g"},{"i":172,"v":100,"s":"g"},{"i":173,"v":100,"s":"g"},{"i":174,"v":100,"s":"g"},{"i":175,"v":100,"s":"g"},{"i":176,"v":100,"s":"g"},{"i":177,"v":100,"s":"g"},{"i":178,"v":100,"s":"g"},{"i":179,"v":100,"s":"g"},
{"i":180,"v":100,"s":"o"},{"i":181,"v":100,"s":"o"},{"i":182,"v":100,"s":"o"},
{"i":183,"v":100,"s":"r"},{"i":184,"v":100,"s":"r"},{"i":185,"v":100,"s":"r"},{"i":186,"v":100,"s":"r"},{"i":187,"v":100,"s":"r"},{"i":188,"v":100,"s":"r"},{"i":189,"v":100,"s":"r"},{"i":190,"v":100,"s":"r"},{"i":191,"v":100,"s":"r"},{"i":192,"v":100,"s":"r"},{"i":193,"v":100,"s":"r"},{"i":194,"v":100,"s":"r"},{"i":195,"v":100,"s":"r"},{"i":196,"v":100,"s":"r"},{"i":197,"v":100,"s":"r"},{"i":198,"v":100,"s":"r"},{"i":199,"v":100,"s":"r"},
{"i":200,"v":100,"s":"o"},{"i":201,"v":100,"s":"o"},{"i":202,"v":100,"s":"o"},{"i":203,"v":100,"s":"o"},{"i":204,"v":100,"s":"o"},{"i":205,"v":100,"s":"o"},{"i":206,"v":100,"s":"o"},
{"i":207,"v":100,"s":"r"},{"i":208,"v":100,"s":"r"}
]
},
"vconcat": [
{
  "width": 1872,
  "height": 706,
  "layer": [
    {
      "data": {"name": "grid"},
      "mark": {"type": "rule", "color": "#FFFFFF", "strokeWidth": 1, "strokeDash": [3, 2]},
      "encoding": {
        "x": {"field": "i", "type": "quantitative", "scale": {"domain": [-0.1, 233.9], "nice": false, "zero": false}, "axis": null}
      }
    },
    {
      "data": {"name": "ticks"},
      "mark": {"type": "point", "opacity": 0},
      "encoding": {
        "y": {"field": "p", "type": "quantitative",
              "scale": {"domain": [1.03422, 1.13487], "nice": false, "zero": false},
              "axis": {"orient": "right", "title": null, "format": ".5f", "tickSize": 3, "labelPadding": 2, "labelOverlap": false, "labelBound": false,
                       "values": [1.1335,1.1288,1.1241,1.1193,1.1146,1.1099,1.1052,1.1005,1.0958,1.0911,1.0864,1.0817,1.077,1.0723,1.0676,1.0629,1.0582,1.0535,1.0488,1.044,1.0393,1.0346]}}
      }
    },
    {
      "data": {"name": "k"},
      "mark": {"type": "rule", "strokeWidth": 1, "clip": true},
      "encoding": {
        "x": {"field": "i", "type": "quantitative", "axis": null},
        "y": {"field": "l", "type": "quantitative", "axis": null},
        "y2": {"field": "h"},
        "stroke": {"field": "d", "type": "nominal", "scale": {"domain": ["u", "d"], "range": ["#00E5FF", "#FFB6C1"]}, "legend": null}
      }
    },
    {
      "data": {"name": "k"},
      "mark": {"type": "bar", "size": 4, "strokeWidth": 1, "clip": true},
      "encoding": {
        "x": {"field": "i", "type": "quantitative", "axis": null},
        "y": {"field": "o", "type": "quantitative", "axis": null},
        "y2": {"field": "c"},
        "fill": {"field": "d", "type": "nominal", "scale": {"domain": ["u", "d"], "range": ["#1E90FF", "#DC143C"]}, "legend": null},
        "stroke": {"field": "d", "type": "nominal", "scale": {"domain": ["u", "d"], "range": ["#00E5FF", "#FFB6C1"]}, "legend": null}
      }
    },
    {
      "data": {"name": "ma"},
      "mark": {"type": "line", "strokeWidth": 2, "interpolate": "monotone", "clip": true},
      "encoding": {
        "x": {"field": "i", "type": "quantitative", "axis": null},
        "y": {"field": "v", "type": "quantitative", "axis": null},
        "detail": {"field": "s", "type": "nominal"},
        "stroke": {"field": "c", "type": "nominal", "scale": {"domain": ["g", "y", "r"], "range": ["#00FF00", "#FFFF00", "#FF0000"]}, "legend": null}
      }
    },
    {
      "data": {"values": [{"p": 1.04106}]},
      "mark": {"type": "rule", "color": "#8A94A0", "strokeWidth": 1},
      "encoding": {"y": {"field": "p", "type": "quantitative", "axis": null}}
    },
    {
      "data": {"values": [{"a": 234.15, "b": 239.2, "p1": 1.04184, "p2": 1.04028}]},
      "mark": {"type": "rect", "color": "#FFFFFF", "clip": false},
      "encoding": {
        "x": {"field": "a", "type": "quantitative", "axis": null},
        "x2": {"field": "b"},
        "y": {"field": "p1", "type": "quantitative", "axis": null},
        "y2": {"field": "p2"}
      }
    },
    {
      "data": {"values": [{"a": 234.55, "p": 1.04106, "t": "1.04106"}]},
      "mark": {"type": "text", "color": "#000000", "align": "left", "baseline": "middle", "clip": false},
      "encoding": {
        "x": {"field": "a", "type": "quantitative", "axis": null},
        "y": {"field": "p", "type": "quantitative", "axis": null},
        "text": {"field": "t"}
      }
    },
    {
      "data": {"values": [{"a": 0.45, "p": 1.1336, "t": "▼"}]},
      "mark": {"type": "text", "color": "#FFFFFF", "align": "left", "baseline": "middle", "fontSize": 7},
      "encoding": {
        "x": {"field": "a", "type": "quantitative", "axis": null},
        "y": {"field": "p", "type": "quantitative", "axis": null},
        "text": {"field": "t"}
      }
    },
    {
      "data": {"values": [{"a": 1.9, "p": 1.1336, "t": "EURUSD,H4\u00a0\u00a01.04132 1.04312 1.04052 1.04106"}]},
      "mark": {"type": "text", "color": "#FFFFFF", "align": "left", "baseline": "middle", "fontSize": 9.2},
      "encoding": {
        "x": {"field": "a", "type": "quantitative", "axis": null},
        "y": {"field": "p", "type": "quantitative", "axis": null},
        "text": {"field": "t"}
      }
    }
  ],
  "resolve": {"scale": {"stroke": "independent", "fill": "independent"}, "axis": {"y": "independent", "x": "independent"}}
},
{
  "width": 1872,
  "height": 214,
  "layer": [
    {
      "data": {"name": "grid"},
      "mark": {"type": "rule", "color": "#FFFFFF", "strokeWidth": 1, "strokeDash": [3, 2]},
      "encoding": {
        "x": {"field": "i", "type": "quantitative", "scale": {"domain": [-0.1, 233.9], "nice": false, "zero": false},
              "axis": {"title": null, "values": [0,8,16,24,32,40,48,56,64,72,80,88,96,104,112,120,128,136,144,152,160,168,176,184,192,200,208],
                       "labelExpr": "['28 Oct 2016','31 Oct 12:00','1 Nov 20:00','3 Nov 04:00','4 Nov 12:00','7 Nov 20:00','9 Nov 04:00','10 Nov 12:00','11 Nov 20:00','15 Nov 04:00','16 Nov 12:00','17 Nov 20:00','21 Nov 04:00','22 Nov 12:00','23 Nov 20:00','25 Nov 04:00','28 Nov 12:00','29 Nov 20:00','1 Dec 04:00','2 Dec 12:00','5 Dec 20:00','7 Dec 04:00','8 Dec 12:00','9 Dec 20:00','13 Dec 04:00','14 Dec 12:00','15 Dec 20:00'][round(datum.value/8)]",
                       "labelAlign": "left", "labelOffset": 1, "labelPadding": 1, "tickSize": 4, "labelOverlap": false, "labelFlush": false, "labelBound": false}}
      }
    },
    {
      "data": {"name": "osc"},
      "mark": {"type": "bar", "size": 5, "clip": true},
      "encoding": {
        "x": {"field": "i", "type": "quantitative", "axis": null},
        "y": {"field": "v", "type": "quantitative", "scale": {"domain": [-5.5, 105], "nice": false, "zero": false},
              "axis": {"orient": "right", "title": null, "values": [105, 0], "tickSize": 3, "labelPadding": 2, "labelOverlap": false,
                       "labelExpr": "datum.value == 105 ? '105' : '0.00'",
                       "labelBaseline": {"condition": {"test": "datum.value == 105", "value": "top"}, "value": "middle"}}},
        "y2": {"datum": 0},
        "fill": {"field": "s", "type": "nominal", "scale": {"domain": ["g", "o", "r"], "range": ["#00FF00", "#FFA500", "#FF0000"]}, "legend": null}
      }
    },
    {
      "data": {"values": [{"a": 0.55, "p": 100.4, "t": "Slope Direction Line Oscillator 0.0000 100.0000 0.0000"}]},
      "mark": {"type": "text", "color": "#FFFFFF", "align": "left", "baseline": "middle"},
      "encoding": {
        "x": {"field": "a", "type": "quantitative", "axis": null},
        "y": {"field": "p", "type": "quantitative", "axis": null},
        "text": {"field": "t"}
      }
    }
  ],
  "resolve": {"axis": {"y": "independent", "x": "independent"}}
}
]
}
